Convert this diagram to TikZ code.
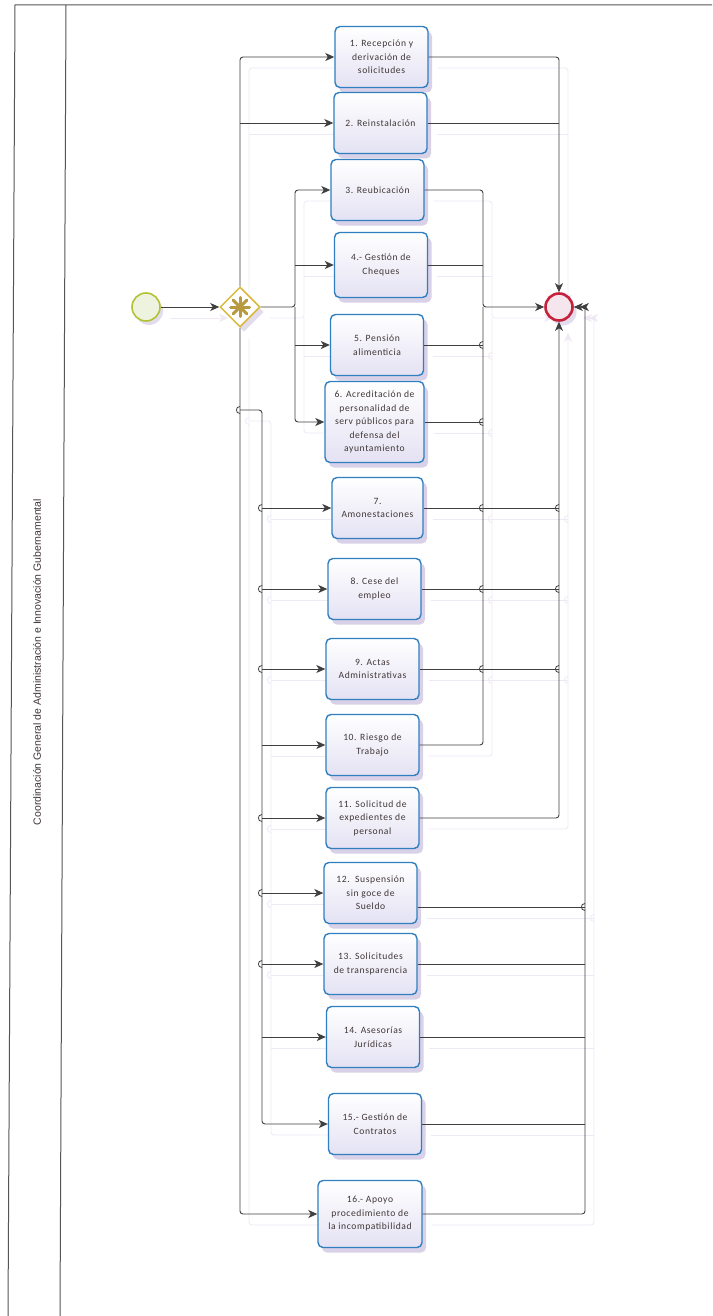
\documentclass[tikz,border=0pt]{standalone}
\usepackage{fontspec}
\newfontfamily\boxfont[LetterSpace=6]{Carlito}
\newfontfamily\lanefont{Liberation Sans}
\usetikzlibrary{arrows.meta,shadows,shapes.geometric}
\pgfdeclarelayer{background}
\pgfsetlayers{background,main}

\definecolor{boxblue}{HTML}{2F7FC1}
\definecolor{boxfill}{HTML}{E4E2F3}
\definecolor{shade}{HTML}{CFC6E2}
\definecolor{txt}{HTML}{403636}
\definecolor{flowline}{HTML}{3F3F3F}
\definecolor{flowshade}{HTML}{EEE9F4}
\definecolor{startc}{HTML}{B3C235}
\definecolor{startfill}{HTML}{EEF3E0}
\definecolor{endc}{HTML}{C6223C}
\definecolor{endfill}{HTML}{F4E6EC}
\definecolor{gatec}{HTML}{D9B93A}
\definecolor{gatestar}{HTML}{B8993F}
\definecolor{lanec}{HTML}{555555}

\tikzset{
  taskbox/.style={rectangle, rounded corners=5pt, draw=boxblue, line width=1.4pt,
    top color=white, bottom color=boxfill, minimum width=93pt, minimum height=61pt,
    align=center, inner sep=2pt, text=txt,
    font=\boxfont\fontsize{9.6}{13.5}\selectfont,
    drop shadow={shadow xshift=4pt, shadow yshift=-5pt, fill=shade, opacity=0.8}},
  flow/.style={draw=flowline, line width=0.9pt, rounded corners=3pt,
    -{Stealth[length=9pt,width=8pt,inset=2.5pt]}},
  flowplain/.style={draw=flowline, line width=0.9pt, rounded corners=3pt},
  hopline/.style={draw=flowline, line width=0.8pt},
  shadeflow/.style={draw=flowshade, line width=0.8pt, rounded corners=3pt,
    -{Stealth[length=9pt,width=8pt,inset=2.5pt]}},
  shadeplain/.style={draw=flowshade, line width=0.8pt, rounded corners=3pt},
  fl/.style={flow}, fll/.style={flowplain}, flh/.style={hopline},
  laneline/.style={draw=lanec, line width=1pt}
}

% every sequence flow of the process, drawn with the styles fl, fll and flh
\newcommand\allflows{%
  \draw[fl] (start.east) -- (gw.west);
  % gateway to tasks
  \draw[fl] (gw.north) |- (t1.west);
  \draw[fl] (gw.north |- t2.west) -- (t2.west);
  \draw[fl] (gw.east) -- (ja) |- (t3.west);
  \draw[fl] (ja) |- (t6.west);
  \draw[fl] (ja |- t4.west) -- (t4.west);
  \draw[fl] (ja |- t5.west) -- (t5.west);
  \draw[fl] (gw.south) |- (t16.west);
  \draw[fl] (gw.south |- jb) -- (jb) |- (t15.west);
  \foreach \t in {t7,t8,t9,t10,t11,t12,t13,t14}
    \draw[fl] (jb |- \t.west) -- (\t.west);
  % tasks to end event
  \draw[fl] (t1.east) -| (end.north);
  \draw[fll] (t2.east) -- (end.north |- t2.east);
  \draw[fl] (t3.east) -| (m) -- (end.west);
  \draw[fll] (t10.east) -| (m);
  \foreach \t in {t4,t5,t6}
    \draw[fll] (\t.east) -- (m |- \t.east);
  \draw[fl] (t11.east) -| (end.south);
  \foreach \t in {t7,t8,t9}
    \draw[fll] (\t.east) -- (end.south |- \t.east);
  \draw[fll] (t16.east) -| (q);
  \foreach \p in {t12out,t13.east,t14.east,t15.east}
    \draw[fll] (\p) -- (q |- \p);
  \draw[fl] (q) -- (end.east);
  \draw[fl] (q) -- ([xshift=6pt]end.east);
  % line hops at crossings
  \foreach \x/\y in {240/410, 262/508, 262/589, 262/669, 262/818, 262/893, 262/964,
                     483/345, 483/422, 483/508, 483/589, 483/669,
                     559/508, 559/589, 559/669, 585/907}
    \draw[flh] (\x,\y-3.5) .. controls (\x-4.8,\y-3.5) and (\x-4.8,\y+3.5) .. (\x,\y+3.5);
}

\begin{document}
\begin{tikzpicture}[x=1pt,y=-1pt]
\useasboundingbox (0,0) rectangle (712,1316);
\begin{pgfonlayer}{background}
  \fill[white] (0,0) rectangle (712,1316);
\end{pgfonlayer}

% pool and lane
\draw[laneline] (712,5) -- (15,5) -- (8,1316);
\draw[laneline] (66,5) -- (60,1316);
\node[rotate=90, text=txt, font=\lanefont\fontsize{10.5}{12}\selectfont] (lane) at (37,662)
  {Coordinación General de Administración e Innovación Gubernamental};

% events and gateway
\node[circle, draw=startc, line width=1.6pt, fill=startfill, minimum size=28pt, inner sep=0pt,
  drop shadow={shadow xshift=3pt, shadow yshift=-4pt, fill=shade, opacity=0.6}] (start) at (146,307) {};
\node[diamond, draw=gatec, line width=1.5pt, fill=white, minimum width=40pt, minimum height=40pt,
  inner sep=0pt, drop shadow={shadow xshift=4pt, shadow yshift=-5pt, fill=shade, opacity=0.6}] (gw) at (240,307) {};
\foreach \a in {0,45,90,135}
  \draw[gatestar, line width=3pt, line cap=round] (gw.center) ++(\a:9.5pt) -- ++(\a+180:19pt);
\node[circle, draw=endc, line width=2.6pt, fill=endfill, minimum size=27pt, inner sep=0pt,
  drop shadow={shadow xshift=4pt, shadow yshift=-5pt, fill=shade, opacity=0.6}] (end) at (559,307) {};

% tasks
\node[taskbox] (t1) at (381.5,57) {1. Recepción y\\derivación de\\solicitudes};
\node[taskbox] (t2) at (380.5,123) {2. Reinstalación};
\node[taskbox] (t3) at (377.5,190) {3. Reubicación};
\node[taskbox, minimum height=65pt] (t4) at (381,265) {4.- Gestión de\\Cheques};
\node[taskbox] (t5) at (377,345) {5. Pensión\\alimenticia};
\node[taskbox, minimum width=99pt, minimum height=81pt] (t6) at (374.5,422) {6. Acreditación de\\personalidad de\\serv públicos para\\defensa del\\ayuntamiento};
\node[taskbox, minimum width=91pt] (t7) at (377.5,508) {7.\\Amonestaciones};
\node[taskbox] (t8) at (374.5,589) {8. Cese del\\empleo};
\node[taskbox] (t9) at (372.5,669) {9. Actas\\Administrativas};
\node[taskbox] (t10) at (372.5,745) {10. Riesgo de\\Trabajo};
\node[taskbox] (t11) at (372.5,818) {11. Solicitud de\\expedientes de\\personal};
\node[taskbox] (t12) at (370.5,893) {12.\ \ Suspensión\\sin goce de\\Sueldo};
\node[taskbox] (t13) at (370.5,964) {13. Solicitudes\\de transparencia};
\node[taskbox] (t14) at (373,1037) {14. Asesorías\\Jurídicas};
\node[taskbox] (t15) at (375,1124) {15.- Gestión de\\Contratos};
\node[taskbox, minimum width=104pt, minimum height=67pt] (t16) at (370,1214) {16.- Apoyo\\procedimiento de\\la incompatibilidad};

% junction points of the flows
\coordinate (ja) at (295,307);
\coordinate (jb) at (262,410);
\coordinate (m) at (483,307);
\coordinate (q) at (585,307);
\coordinate (t12out) at ([yshift=-14pt]t12.east);

% soft shadows of the flows, behind everything
\begin{pgfonlayer}{background}
  \begin{scope}[transform canvas={xshift=9pt,yshift=-11pt},
      fl/.style={shadeflow}, fll/.style={shadeplain}, flh/.style={shadeplain}]
    \allflows
  \end{scope}
\end{pgfonlayer}

% the flows
\allflows

\end{tikzpicture}
\end{document}
